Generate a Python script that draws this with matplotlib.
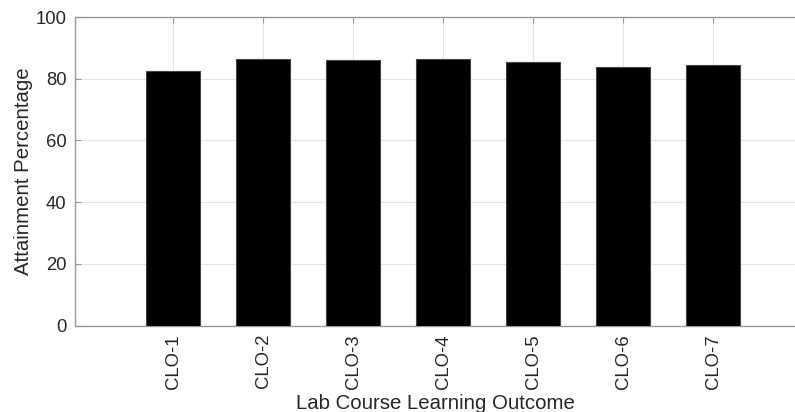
import matplotlib
matplotlib.use("Agg")
import matplotlib.pyplot as plt

categories = ["CLO-1", "CLO-2", "CLO-3", "CLO-4", "CLO-5", "CLO-6", "CLO-7"]
values = [82.6, 86.3, 86.0, 86.4, 85.4, 83.9, 84.5]
yticks = [0, 20, 40, 60, 80, 100]

plt.rcParams['font.family'] = ['Liberation Sans', 'DejaVu Sans']

fig = plt.figure(figsize=(7.95, 4.12), dpi=100)
W, H = 795, 412
left, right, top, bottom = 75, 795, 17, 325.7
ax = fig.add_axes([left / W, 1 - bottom / H, (right - left) / W, (bottom - top) / H])

x = list(range(1, len(categories) + 1))
ax.bar(x, values, width=0.6, color='black', edgecolor='#444444', linewidth=0.8, zorder=3)

ax.set_xlim(-0.089, 7.911)
ax.set_ylim(0, 100)
ax.set_xticks(x)
ax.set_xticklabels(categories, rotation=90, fontsize=13.3, color='#262626')
ax.set_yticks(yticks)
ax.set_yticklabels([str(v) for v in yticks], fontsize=13.3, color='#262626')
ax.grid(True, color='#e3e3e3', linewidth=0.8, zorder=0)
ax.set_axisbelow(True)

for s in ['left', 'top', 'bottom']:
    ax.spines[s].set_color('#999999')
    ax.spines[s].set_linewidth(1.0)
ax.spines['right'].set_visible(False)
ax.tick_params(axis='both', direction='in', length=4, color='#999999', top=True, pad=6)

ax.set_xlabel("Lab Course Learning Outcome", fontsize=14.7, color='#262626', labelpad=3.5)
ax.set_ylabel("Attainment Percentage", fontsize=14.7, color='#262626', labelpad=2)

fig.savefig("out.png", dpi=100)
